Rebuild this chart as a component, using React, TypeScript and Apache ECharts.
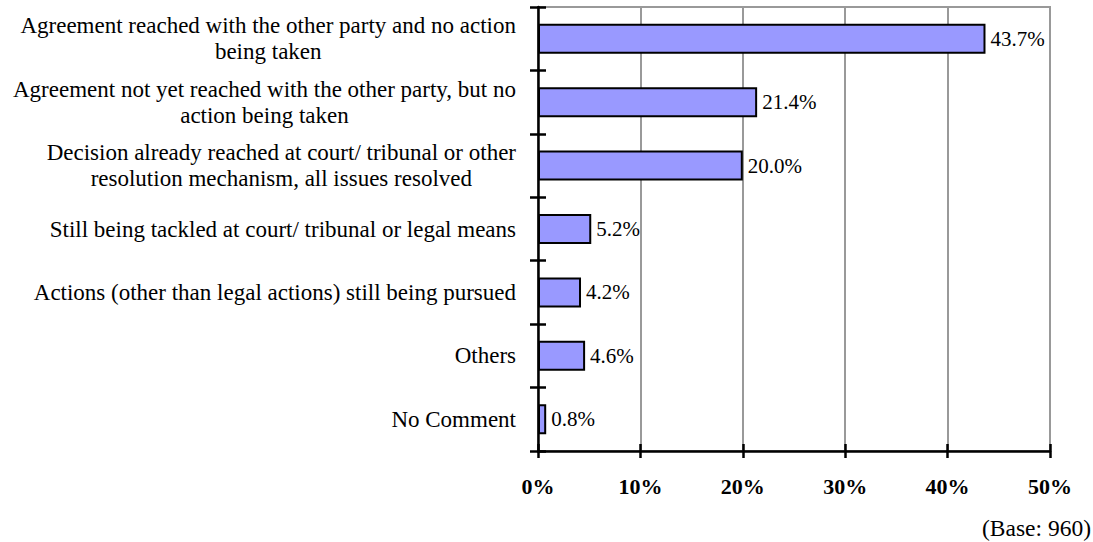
import React, { useEffect, useRef } from "react";
import * as echarts from "echarts";

const categories: string[] = [
  "Agreement reached with the other party and no action\nbeing taken",
  "Agreement not yet reached with the other party, but no\naction being taken",
  "Decision already reached at court/ tribunal or other\nresolution mechanism, all issues resolved",
  "Still being tackled at court/ tribunal or legal means",
  "Actions (other than legal actions) still being pursued",
  "Others",
  "No Comment",
];
const values: number[] = [43.7, 21.4, 20.0, 5.2, 4.2, 4.6, 0.8];
const xTicks: number[] = [0, 10, 20, 30, 40, 50];
const baseNote = "(Base: 960)";

const FONT = '"Liberation Serif", "Times New Roman", serif';

export default function App() {
  const ref = useRef<HTMLDivElement>(null);
  useEffect(() => {
    if (!ref.current) return;
    const chart = echarts.init(ref.current, null, { renderer: "svg" });
    const xMin = xTicks[0];
    const xMax = xTicks[xTicks.length - 1];
    const xInterval = xTicks[1] - xTicks[0];
    chart.setOption({
      animation: false,
      backgroundColor: "#ffffff",
      textStyle: { fontFamily: FONT },
      grid: {
        left: 538,
        right: 43,
        top: 7,
        bottom: 91,
        show: true,
        borderColor: "#999999",
        borderWidth: 2,
        containLabel: false,
      },
      xAxis: [
        {
          type: "value",
          position: "bottom",
          min: xMin,
          max: xMax,
          interval: xInterval,
          axisLine: { show: true, lineStyle: { color: "#000", width: 2.5 } },
          axisTick: { show: true, inside: false, length: 7, lineStyle: { color: "#000", width: 2.5 } },
          splitLine: { show: true, lineStyle: { color: "#999999", width: 2 } },
          axisLabel: {
            formatter: (v: number) => `${v}%`,
            fontFamily: FONT,
            fontWeight: "bold",
            fontSize: 22,
            color: "#000",
            margin: 24,
          },
        },
        {
          type: "value",
          position: "bottom",
          min: xMin,
          max: xMax,
          interval: xInterval,
          axisLine: { show: false },
          axisTick: { show: true, inside: true, length: 7, lineStyle: { color: "#000", width: 2.5 } },
          splitLine: { show: false },
          axisLabel: { show: false },
        },
      ],
      yAxis: [
        {
          type: "category",
          data: categories,
          inverse: true,
          axisLine: { show: true, lineStyle: { color: "#000", width: 2.5 } },
          axisTick: { show: true, inside: false, length: 8, lineStyle: { color: "#000", width: 2.5 } },
          splitLine: { show: false },
          axisLabel: {
            margin: 22,
            color: "#000",
            formatter: (v: string) =>
              v.split("\n").map((l) => `{c|${l}}`).join("\n"),
            rich: {
              c: {
                align: "center",
                fontFamily: FONT,
                fontSize: 23,
                lineHeight: 26,
                color: "#000",
              },
            },
          },
        },
        {
          type: "category",
          data: categories,
          inverse: true,
          position: "left",
          axisLine: { show: false },
          axisTick: { show: true, inside: true, length: 8, lineStyle: { color: "#000", width: 2.5 } },
          splitLine: { show: false },
          axisLabel: { show: false },
        },
      ],
      series: [
        {
          type: "bar",
          data: values,
          barWidth: 30,
          itemStyle: { color: "#9999ff", borderColor: "#000", borderWidth: 2 },
          label: {
            show: true,
            position: "right",
            distance: 5,
            formatter: (p: any) => `${Number(p.value).toFixed(1)}%`,
            fontFamily: FONT,
            fontSize: 21,
            color: "#000",
          },
        },
      ],
      graphic: [
        {
          type: "text",
          right: 2,
          bottom: 2,
          style: { text: baseNote, fontFamily: FONT, fontSize: 23.5, fill: "#000" },
        },
      ],
    });
    return () => chart.dispose();
  }, []);
  return <div ref={ref} style={{ width: 1093, height: 542, position: "absolute", left: 0, top: 0 }} />;
}
